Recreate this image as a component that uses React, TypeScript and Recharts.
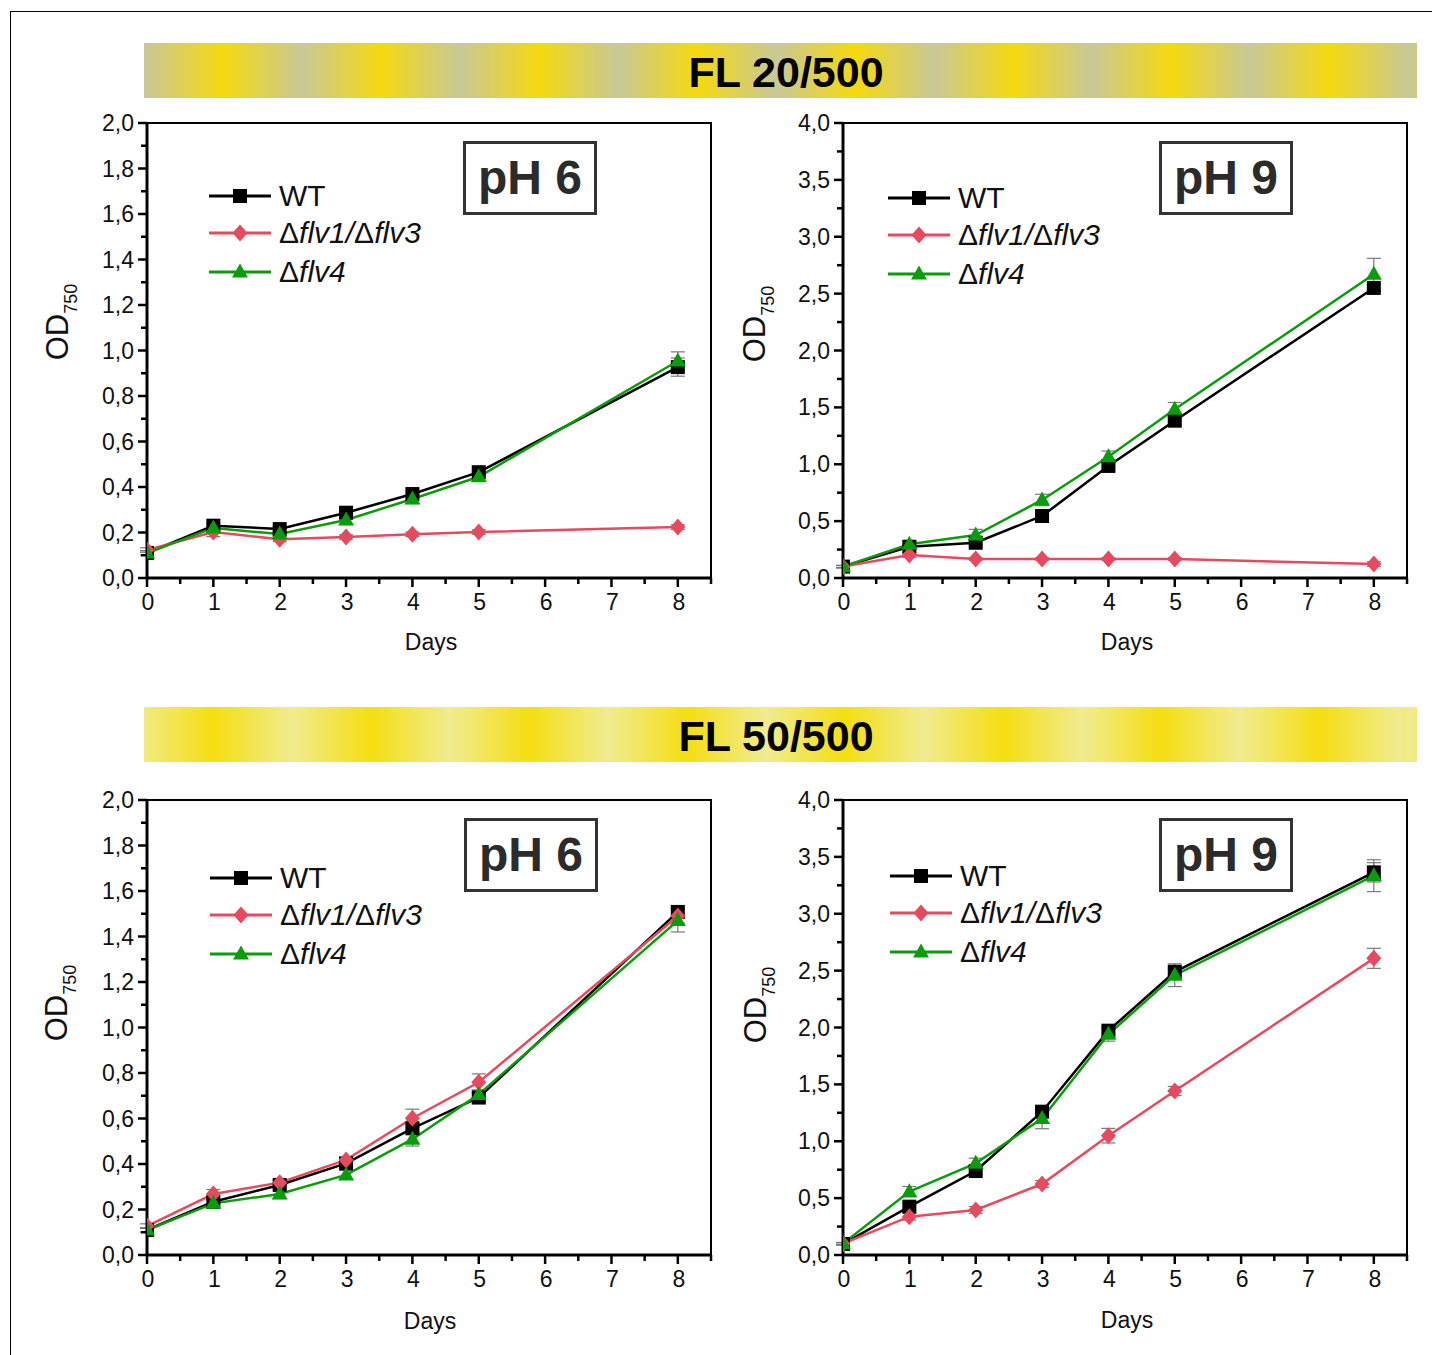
import React from 'react';
import { LineChart, Line, XAxis, YAxis, ErrorBar, ReferenceArea } from 'recharts';

// ---------- data ----------
const days = [0, 1, 2, 3, 4, 5, 8];
const seriesNames = ['WT', 'Δflv1/Δflv3', 'Δflv4'];
const bannerTitles = ['FL 20/500', 'FL 50/500'];
const phTitles = ['pH 6', 'pH 9'];

const xTicks = [0, 0.5, 1, 1.5, 2, 2.5, 3, 3.5, 4, 4.5, 5, 5.5, 6, 6.5, 7, 7.5, 8, 8.5];
const xMajor = [0, 1, 2, 3, 4, 5, 6, 7, 8];
const yTicks2 = [0, 0.1, 0.2, 0.3, 0.4, 0.5, 0.6, 0.7, 0.8, 0.9, 1.0, 1.1, 1.2, 1.3, 1.4, 1.5, 1.6, 1.7, 1.8, 1.9, 2.0];
const yMajor2 = [0, 0.2, 0.4, 0.6, 0.8, 1.0, 1.2, 1.4, 1.6, 1.8, 2.0];
const yTicks4 = [0, 0.25, 0.5, 0.75, 1.0, 1.25, 1.5, 1.75, 2.0, 2.25, 2.5, 2.75, 3.0, 3.25, 3.5, 3.75, 4.0];
const yMajor4 = [0, 0.5, 1.0, 1.5, 2.0, 2.5, 3.0, 3.5, 4.0];

// FL 20/500, pH 6
const fl20ph6Wt = [0.11, 0.23, 0.215, 0.287, 0.369, 0.465, 0.927];
const fl20ph6WtErr = [0.01, 0.01, 0.01, 0.01, 0.01, 0.01, 0.04];
const fl20ph6Dm = [0.123, 0.202, 0.17, 0.18, 0.192, 0.202, 0.224];
const fl20ph6DmErr = [0.01, 0.02, 0.01, 0.01, 0.01, 0.01, 0.01];
const fl20ph6F4 = [0.11, 0.22, 0.193, 0.255, 0.347, 0.445, 0.954];
const fl20ph6F4Err = [0.01, 0.01, 0.01, 0.02, 0.02, 0.02, 0.04];

// FL 20/500, pH 9
const fl20ph9Wt = [0.1, 0.275, 0.31, 0.545, 0.985, 1.383, 2.55];
const fl20ph9WtErr = [0.01, 0.02, 0.02, 0.02, 0.03, 0.03, 0.03];
const fl20ph9Dm = [0.1, 0.202, 0.167, 0.167, 0.167, 0.167, 0.123];
const fl20ph9DmErr = [0.01, 0.02, 0.01, 0.01, 0.01, 0.01, 0.02];
const fl20ph9F4 = [0.1, 0.296, 0.378, 0.686, 1.066, 1.483, 2.67];
const fl20ph9F4Err = [0.01, 0.03, 0.05, 0.05, 0.05, 0.06, 0.14];

// FL 50/500, pH 6
const fl50ph6Wt = [0.11, 0.234, 0.308, 0.403, 0.557, 0.692, 1.508];
const fl50ph6WtErr = [0.01, 0.01, 0.01, 0.01, 0.02, 0.02, 0.02];
const fl50ph6Dm = [0.127, 0.268, 0.318, 0.418, 0.601, 0.759, 1.49];
const fl50ph6DmErr = [0.01, 0.02, 0.01, 0.01, 0.04, 0.037, 0.03];
const fl50ph6F4 = [0.11, 0.227, 0.268, 0.352, 0.509, 0.706, 1.47];
const fl50ph6F4Err = [0.01, 0.02, 0.02, 0.02, 0.03, 0.02, 0.05];

// FL 50/500, pH 9
const fl50ph9Wt = [0.097, 0.425, 0.738, 1.26, 1.972, 2.49, 3.364];
const fl50ph9WtErr = [0.01, 0.03, 0.03, 0.03, 0.03, 0.03, 0.085];
const fl50ph9Dm = [0.1, 0.337, 0.396, 0.624, 1.049, 1.442, 2.608];
const fl50ph9DmErr = [0.01, 0.03, 0.03, 0.03, 0.064, 0.04, 0.088];
const fl50ph9F4 = [0.1, 0.557, 0.806, 1.2, 1.94, 2.46, 3.335];
const fl50ph9F4Err = [0.01, 0.045, 0.045, 0.09, 0.06, 0.1, 0.14];

// ---------- styles ----------
const FONT = '"Liberation Sans", Arial, Helvetica, sans-serif';
const BLACK = '#000000';
const RED = '#e54a5e';
const GREEN = '#0b9c0b';
const ERR = '#7a7a7a';

const buildRows = (wt, wtErr, dm, dmErr, f4, f4Err) =>
  days.map((d, i) => ({ day: d, wt: wt[i], wtErr: wtErr[i], dm: dm[i], dmErr: dmErr[i], f4: f4[i], f4Err: f4Err[i] }));

// ---------- markers ----------
const Square = ({ cx, cy }) => <rect x={cx - 7} y={cy - 7} width={14} height={14} fill={BLACK} />;
const Diamond = ({ cx, cy }) => (
  <polygon points={`${cx},${cy - 8.5} ${cx + 7.5},${cy} ${cx},${cy + 8.5} ${cx - 7.5},${cy}`} fill={RED} />
);
const Triangle = ({ cx, cy }) => (
  <polygon points={`${cx},${cy - 8.5} ${cx + 8},${cy + 5.5} ${cx - 8},${cy + 5.5}`} fill={GREEN} />
);

const dotFn = (Shape) => (props) => {
  const { cx, cy, index } = props;
  if (cx == null || cy == null) return <g key={`d${index}`} />;
  return (
    <g key={`d${index}`}>
      <Shape cx={cx} cy={cy} />
    </g>
  );
};

const isIn = (arr, v) => arr.some((m) => Math.abs(m - v) < 1e-6);

const makeXTick = () => (props) => {
  const { x, y, payload } = props;
  const v = payload.value;
  const major = isIn(xMajor, v);
  return (
    <g>
      <line x1={x} x2={x} y1={y} y2={y + (major ? 9 : 6)} stroke="#000" strokeWidth={2.5} />
      {major && (
        <text x={x + 1} y={y + 32} textAnchor="middle" fontSize={23} fontFamily={FONT} fill="#111">
          {v}
        </text>
      )}
    </g>
  );
};

const makeYTick = (majors) => (props) => {
  const { x, y, payload } = props;
  const v = payload.value;
  const major = isIn(majors, v);
  return (
    <g>
      <line x1={x} x2={x - (major ? 9 : 6)} y1={y} y2={y} stroke="#000" strokeWidth={2.5} />
      {major && (
        <text x={x - 13} y={y + 8} textAnchor="end" fontSize={23} fontFamily={FONT} fill="#111">
          {v.toFixed(1).replace('.', ',')}
        </text>
      )}
    </g>
  );
};

// ---------- panel ----------
const PW = 564;
const PH = 455;
const ML = 100;
const MT = 20;
const MR = 30;
const MB = 60;

function Panel({ left, top, rows, ymax, yTicks, yMajor }) {
  return (
    <div style={{ position: 'absolute', left: left - ML, top: top - MT }}>
      <LineChart
        width={PW + ML + MR}
        height={PH + MT + MB}
        data={rows}
        margin={{ top: MT, right: MR, left: 0, bottom: 0 }}
      >
        <ReferenceArea x1={0} x2={8.5} y1={0} y2={ymax} fill="none" stroke="#000" strokeWidth={2} ifOverflow="visible" />
        <XAxis
          dataKey="day"
          type="number"
          domain={[0, 8.5]}
          ticks={xTicks}
          interval={0}
          height={MB}
          tickSize={0}
          tickMargin={0}
          tickLine={false}
          axisLine={{ stroke: '#000', strokeWidth: 3 }}
          tick={makeXTick()}
          allowDataOverflow
        />
        <YAxis
          type="number"
          domain={[0, ymax]}
          ticks={yTicks}
          interval={0}
          width={ML}
          tickSize={0}
          tickMargin={0}
          tickLine={false}
          axisLine={{ stroke: '#000', strokeWidth: 3 }}
          tick={makeYTick(yMajor)}
          allowDataOverflow
        />
        <Line dataKey="wt" stroke={BLACK} strokeWidth={2.5} dot={dotFn(Square)} isAnimationActive={false}>
          <ErrorBar dataKey="wtErr" direction="y" width={7} stroke={ERR} strokeWidth={1.2} />
        </Line>
        <Line dataKey="dm" stroke={RED} strokeWidth={2.5} dot={dotFn(Diamond)} isAnimationActive={false}>
          <ErrorBar dataKey="dmErr" direction="y" width={7} stroke={ERR} strokeWidth={1.2} />
        </Line>
        <Line dataKey="f4" stroke={GREEN} strokeWidth={2.5} dot={dotFn(Triangle)} isAnimationActive={false}>
          <ErrorBar dataKey="f4Err" direction="y" width={7} stroke={ERR} strokeWidth={1.2} />
        </Line>
      </LineChart>
    </div>
  );
}

// ---------- decorations ----------
function LegendBox({ left, top }) {
  const items = [
    { Shape: Square, color: BLACK, label: <span>{seriesNames[0]}</span> },
    {
      Shape: Diamond,
      color: RED,
      label: (
        <span>
          Δ<i>flv1/</i>Δ<i>flv3</i>
        </span>
      ),
    },
    {
      Shape: Triangle,
      color: GREEN,
      label: (
        <span>
          Δ<i>flv4</i>
        </span>
      ),
    },
  ];
  const gaps = [0, 37, 76];
  return (
    <div style={{ position: 'absolute', left, top }}>
      {items.map((it, i) => (
        <div key={i} style={{ position: 'absolute', left: 0, top: gaps[i] - 18, height: 36, display: 'flex', alignItems: 'center', whiteSpace: 'nowrap' }}>
          <svg width={62} height={36} style={{ display: 'block' }}>
            <line x1={0} x2={62} y1={18} y2={18} stroke={it.color} strokeWidth={3} />
            <it.Shape cx={31} cy={18} />
          </svg>
          <div style={{ marginLeft: 8, fontSize: 30, fontFamily: FONT, color: '#111', lineHeight: '36px' }}>{it.label}</div>
        </div>
      ))}
    </div>
  );
}

function PhBox({ left, top, text }) {
  return (
    <div
      style={{
        position: 'absolute',
        left,
        top,
        width: 128,
        height: 68,
        border: '3px solid #333',
        display: 'flex',
        alignItems: 'center',
        justifyContent: 'center',
        fontFamily: FONT,
        fontWeight: 'bold',
        fontSize: 48,
        color: '#2b2b2b',
        lineHeight: 1,
      }}
    >
      {text}
    </div>
  );
}

function Banner({ top, text, c1, c2, shift, textCenter }) {
  return (
    <div
      style={{
        position: 'absolute',
        left: 144,
        top,
        width: 1273,
        height: 55,
        backgroundImage: `repeating-linear-gradient(90deg, ${c1} 0px, ${c2} 79px, ${c1} 158px)`,
        backgroundPosition: `${shift}px 0px`,
      }}
    >
      <div
        style={{
          position: 'absolute',
          left: textCenter - 144 - 200,
          width: 400,
          top: 0,
          height: 55,
          textAlign: 'center',
          fontFamily: FONT,
          fontWeight: 'bold',
          fontSize: 43,
          lineHeight: '58px',
          color: '#000',
        }}
      >
        {text}
      </div>
    </div>
  );
}

function YLabel({ cx, cy }) {
  return (
    <div
      style={{
        position: 'absolute',
        left: cx - 60,
        top: cy - 20,
        width: 120,
        height: 40,
        transform: 'rotate(-90deg)',
        textAlign: 'center',
        fontFamily: FONT,
        fontSize: 31,
        lineHeight: '40px',
        color: '#111',
        whiteSpace: 'nowrap',
      }}
    >
      OD<span style={{ fontSize: 18, position: 'relative', top: 9 }}>750</span>
    </div>
  );
}

function XLabel({ cx, cy }) {
  return (
    <div
      style={{
        position: 'absolute',
        left: cx - 60,
        top: cy - 15,
        width: 120,
        height: 30,
        textAlign: 'center',
        fontFamily: FONT,
        fontSize: 23,
        lineHeight: '30px',
        color: '#111',
      }}
    >
      Days
    </div>
  );
}

export default function App() {
  const rowsA = buildRows(fl20ph6Wt, fl20ph6WtErr, fl20ph6Dm, fl20ph6DmErr, fl20ph6F4, fl20ph6F4Err);
  const rowsB = buildRows(fl20ph9Wt, fl20ph9WtErr, fl20ph9Dm, fl20ph9DmErr, fl20ph9F4, fl20ph9F4Err);
  const rowsC = buildRows(fl50ph6Wt, fl50ph6WtErr, fl50ph6Dm, fl50ph6DmErr, fl50ph6F4, fl50ph6F4Err);
  const rowsD = buildRows(fl50ph9Wt, fl50ph9WtErr, fl50ph9Dm, fl50ph9DmErr, fl50ph9F4, fl50ph9F4Err);

  return (
    <div style={{ position: 'absolute', left: 0, top: 0, width: 1432, height: 1355, background: '#fff', overflow: 'hidden' }}>
      {/* figure frame */}
      <div style={{ position: 'absolute', left: 10, top: 11, width: 1430, height: 1350, borderTop: '1.5px solid #000', borderLeft: '1.5px solid #000' }} />

      <Banner top={43} text={bannerTitles[0]} c1="#c9c898" c2="#f5d90e" shift={0} textCenter={786} />
      <Banner top={707} text={bannerTitles[1]} c1="#f0ec90" c2="#f6de10" shift={-10} textCenter={776} />

      <Panel left={147} top={123} rows={rowsA} ymax={2} yTicks={yTicks2} yMajor={yMajor2} />
      <Panel left={843} top={123} rows={rowsB} ymax={4} yTicks={yTicks4} yMajor={yMajor4} />
      <Panel left={147} top={800} rows={rowsC} ymax={2} yTicks={yTicks2} yMajor={yMajor2} />
      <Panel left={843} top={800} rows={rowsD} ymax={4} yTicks={yTicks4} yMajor={yMajor4} />

      <LegendBox left={209} top={196} />
      <LegendBox left={888} top={198} />
      <LegendBox left={210} top={878} />
      <LegendBox left={890} top={876} />

      <PhBox left={463} top={141} text={phTitles[0]} />
      <PhBox left={1159} top={141} text={phTitles[1]} />
      <PhBox left={464} top={818} text={phTitles[0]} />
      <PhBox left={1159} top={818} text={phTitles[1]} />

      <YLabel cx={58} cy={322} />
      <YLabel cx={755} cy={324} />
      <YLabel cx={57} cy={1003} />
      <YLabel cx={756} cy={1005} />

      <XLabel cx={431} cy={642} />
      <XLabel cx={1127} cy={642} />
      <XLabel cx={430} cy={1321} />
      <XLabel cx={1127} cy={1320} />
    </div>
  );
}
